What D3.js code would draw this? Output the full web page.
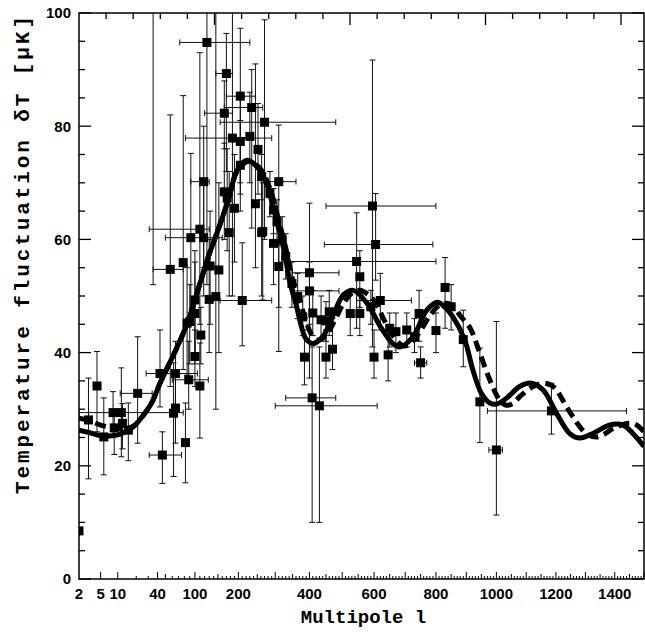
<!DOCTYPE html>
<html><head><meta charset="utf-8">
<script src="https://cdn.jsdelivr.net/npm/d3@7/dist/d3.min.js"></script>
<style>body{margin:0;background:#fff}svg{display:block}</style>
</head><body>
<svg id="c" width="645" height="632"></svg>
<script>
// ---------- data ----------
const xTickLabels = [2, 5, 10, 40, 100, 200, 400, 600, 800, 1000, 1200, 1400];
const yTickLabels = [0, 20, 40, 60, 80, 100];

// solid model curve [multipole, dT]
const solidCurve = [[2,26.3],[3,25.9],[5,25.3],[8,25.3],[11,25.6],[18,26.9],[28,29.6],[34,31.3],[43,34.6],[57,38.4],[70,41.5],[87,45.6],[100,49.4],[116,53.8],[130,57.4],[147,61],[160,63.8],[175,67],[197,72.2],[222,74],[250,72.8],[275,69.9],[295,65.5],[325,58.1],[343,52.2],[362,48.1],[376,44.6],[390,42.4],[410,41.6],[440,42.8],[460,45],[483,48.1],[505,50.3],[535,51],[578,48.7],[620,44.6],[660,41.6],[683,41],[725,42.8],[770,47.5],[805,48.9],[830,48],[856,46.3],[895,42.2],[922,36.9],[950,32.8],[978,31.1],[1000,30.9],[1033,31.9],[1078,34],[1117,34.6],[1157,33.4],[1202,29.3],[1247,25.7],[1281,24.9],[1325,25.7],[1383,27.2],[1428,27.2],[1462,25.7],[1500,23.4]];

// dashed model curve [multipole, dT]
const dashedCurve = [[2,28.4],[3,28],[5,27.2],[8,26.7],[12,26.5],[18,27],[28,29.6],[34,31.3],[43,34.6],[57,38.4],[70,41.5],[87,45.6],[100,49.4],[116,53.8],[130,57.4],[147,61],[160,63.8],[175,67],[197,72.1],[228,73.8],[258,72.5],[285,69],[305,64.5],[330,58.5],[350,53],[372,49],[390,45.5],[408,43],[425,42.2],[450,43],[475,45.5],[505,48.8],[530,50.5],[555,51],[580,50.3],[603,49],[630,46],[660,43],[693,41.2],[715,41.5],[745,43.5],[780,46.5],[810,48.3],[840,48.7],[860,48],[880,46.5],[913,44.3],[945,39.9],[978,35.2],[1011,31.6],[1033,30.7],[1055,31],[1078,32.2],[1123,34],[1157,34.6],[1185,34.2],[1202,33.4],[1230,31],[1257,28.7],[1303,25.7],[1337,25.1],[1365,25.6],[1394,26.6],[1450,27.5],[1475,27.2],[1500,26]];

// measurements [multipole, dT, dT low, dT high, l min, l max]
const lowLPoints = [
  [2,8.5,null,null,null,null],
  [3,28.1,17.7,35.5,null,null],
  [4.3,34.1,26,40.2,null,null],
  [5.7,25.1,18.4,32,null,null],
  [8.3,29.4,25.3,33.1,2,78],
  [11.5,29.4,21.6,37.3,null,null],
  [8.7,26.7,22,29.5,null,null],
  [12,27.5,23,31,null,null],
  [15,26.3,20.9,31.1,null,null],
  [21,32.8,24,42.8,11,34],
  [46,21.9,16.9,26,31,75],
  [43,36.3,30.4,44,28,105],
  [62,29.3,18.1,38.2,null,null],
  [65,30.2,24,36,null,null],
  [65,36.3,30,42,null,null],
  [82,24.1,17,31.1,null,null],
  [88,35.2,30,42,60,128],
  [110,34.1,24.9,41.7,null,null],
  [100,39.3,34,44,null,null],
  [112,43.1,38,48,null,null]
];
const peakPoints = [
  [57,54.7,34,82,35,78],
  [78,55.9,37,85.4,null,null],
  [92,60.3,47,75.2,50,160],
  [110,61.8,45,93,31,130],
  [118,60.3,50,70,null,null],
  [132,55.3,45,65,null,null],
  [152,54.6,40,70,null,null],
  [177,61.2,50,72,null,null],
  [210,49.2,41.2,59.4,155,290],
  [245,66.3,55,91,null,null],
  [262,61.2,50,72,null,null],
  [145,49.9,30,105,null,null],
  [130,49.4,40,60,null,null],
  [100,49.3,40,58,null,null],
  [100,46.9,38,56,null,null],
  [85,45.2,36,55,null,null],
  [90,45.5,38,52,null,null],
  [125,94.8,52,105,72,230],
  [170,89.3,72,96.4,145,185],
  [205,85.3,70,97.3,170,245],
  [165,82.3,76,88,120,185],
  [235,83.3,62,90,165,265],
  [270,80.7,60,98.8,155,480],
  [185,77.9,50,105,82,290],
  [205,77.3,68,86,null,null],
  [230,78.2,70,86,null,null],
  [252,75.9,68,84,null,null],
  [205,73.1,65,81,null,null],
  [310,70.2,40.2,80.2,275,360],
  [118,70.2,55,80,92,130],
  [165,68.4,60,77,null,null],
  [172,67.3,58,76,null,null],
  [190,65.5,56,75,null,null],
  [35,106,52,115,null,null],
  [265,61.4,49.3,70,null,null],
  [295,59.3,52,66,null,null],
  [310,55.2,48,62,null,null],
  [262,71.1,67,75,null,null],
  [285,68.1,64,72,null,null],
  [295,65.2,61,69,null,null],
  [305,63.1,59,67,null,null],
  [320,59.9,56,64,null,null],
  [330,57,53,61,null,null],
  [348,52.2,48,56,null,null],
  [365,49.9,46,54,null,null]
];
const highLPoints = [
  [400,54.1,35.5,66.4,350,490],
  [400,50.9,45,56,355,490],
  [385,39.2,34.3,44,null,null],
  [410,47,43,51,null,null],
  [408,32,10,41,330,480],
  [430,30.6,10,41,300,610],
  [450,39.2,35.5,44,null,null],
  [470,40.6,37,46,null,null],
  [460,47.2,43,51,null,null],
  [435,45.8,42,50,null,null],
  [545,56.1,44.3,64.7,330,800],
  [555,53.4,48,58,null,null],
  [595,65.9,41,91.7,450,800],
  [605,59.1,52.8,68.1,445,790],
  [620,49.2,44,54,545,720],
  [600,39.2,35.5,44,null,null],
  [645,39.6,35,44,null,null],
  [830,51.5,44.3,56.8,null,null],
  [800,43.9,40,47,null,null],
  [750,38.2,35.5,41,730,770],
  [745,46.9,42,51,null,null],
  [380,46.3,43,50,null,null],
  [450,45.6,42,49,null,null],
  [525,46.9,43,51,null,null],
  [555,46.9,43,51,null,null],
  [650,44.3,41,47,null,null],
  [670,43.7,40,47,null,null],
  [705,44,41,47,null,null],
  [730,42.8,40,46,null,null],
  [590,48.1,45,51,null,null],
  [850,48.1,44,52,null,null],
  [890,42.3,37.5,47.5,null,null],
  [945,31.3,24.1,40.8,935,957],
  [1000,22.8,11.3,45.5,975,1020],
  [1185,29.7,25.6,34.6,970,1440]
];
const points = lowLPoints.concat(peakPoints, highLPoints);

// ---------- layout ----------
const L = 79, R = 644, T = 13, B = 579;
const svg = d3.select('#c');

// mixed log/linear multipole axis
const tf = l => Math.log(l) + l / 82;
const xLin = d3.scaleLinear().domain([tf(2), tf(1500)]).range([L, R]);
const x = l => xLin(tf(l));
const y = d3.scaleLinear().domain([0, 100]).range([B, T]);
const topScale = d3.scaleLinear().domain([0, (R - L) / 27.1]).range([L, R]);

svg.append('defs').append('clipPath').attr('id', 'clip')
  .append('rect').attr('x', L).attr('y', T).attr('width', R - L).attr('height', B - T);

const plot = svg.append('g').attr('clip-path', 'url(#clip)');

// error bars
const eb = plot.append('g').attr('stroke', '#111').attr('stroke-width', 1).attr('fill', 'none');
const cap = 3;
points.forEach(p => {
  const [l, v, lo, hi, l0, l1] = p;
  const px = x(l), py = y(v);
  if (lo !== null) {
    eb.append('line').attr('x1', px).attr('x2', px).attr('y1', y(lo)).attr('y2', y(hi));
    eb.append('line').attr('x1', px - cap).attr('x2', px + cap).attr('y1', y(lo)).attr('y2', y(lo));
    eb.append('line').attr('x1', px - cap).attr('x2', px + cap).attr('y1', y(hi)).attr('y2', y(hi));
  }
  if (l0 !== null) {
    eb.append('line').attr('x1', x(l0)).attr('x2', x(l1)).attr('y1', py).attr('y2', py);
    eb.append('line').attr('x1', x(l0)).attr('x2', x(l0)).attr('y1', py - cap).attr('y2', py + cap);
    eb.append('line').attr('x1', x(l1)).attr('x2', x(l1)).attr('y1', py - cap).attr('y2', py + cap);
  }
});

// model curves
const line = d3.line().x(d => x(d[0])).y(d => y(d[1])).curve(d3.curveCatmullRom.alpha(0.5));
plot.append('path').datum(solidCurve).attr('d', line)
  .attr('fill', 'none').attr('stroke', '#000').attr('stroke-width', 5);
plot.append('path').datum(dashedCurve).attr('d', line)
  .attr('fill', 'none').attr('stroke', '#000').attr('stroke-width', 5)
  .attr('stroke-dasharray', '11,6');

// squares
const sq = 9;
plot.append('g').selectAll('rect').data(points).join('rect')
  .attr('x', d => x(d[0]) - sq / 2).attr('y', d => y(d[1]) - sq / 2)
  .attr('width', sq).attr('height', sq).attr('fill', '#000');

// frame
svg.append('rect').attr('x', L).attr('y', T).attr('width', R - L).attr('height', B - T)
  .attr('fill', 'none').attr('stroke', '#000').attr('stroke-width', 1.5);

// ticks
const tk = svg.append('g').attr('stroke', '#000').attr('stroke-width', 1.3);
d3.range(0, 101, 5).forEach(v => {
  const len = v % 20 === 0 ? 12 : 6;
  tk.append('line').attr('x1', L).attr('x2', L + len).attr('y1', y(v)).attr('y2', y(v));
  tk.append('line').attr('x1', R).attr('x2', R - len).attr('y1', y(v)).attr('y2', y(v));
});
d3.range(1, 21).forEach(k => {
  const len = k % 5 === 0 ? 12 : 6;
  tk.append('line').attr('x1', topScale(k)).attr('x2', topScale(k)).attr('y1', T).attr('y2', T + len);
});
const bottomTicks = [5, 10].concat(d3.range(20, 100, 10), d3.range(100, 1501, 10));
bottomTicks.forEach(l => {
  let len = 3;
  if (l === 5 || l === 10 || l === 40 || l % 100 === 0) len = 7;
  else if (l % 50 === 0) len = 5;
  tk.append('line').attr('x1', x(l)).attr('x2', x(l)).attr('y1', B).attr('y2', B - len)
    .attr('stroke-width', 1);
});

// tick labels
const lab = svg.append('g').attr('font-family', '"Liberation Sans", Arial, sans-serif')
  .attr('font-weight', 'bold').attr('font-size', 15).attr('fill', '#000');
yTickLabels.forEach(v => {
  lab.append('text').attr('x', 71).attr('y', y(v)).attr('dy', '0.36em')
    .attr('text-anchor', 'end').text(v);
});
xTickLabels.forEach(l => {
  lab.append('text').attr('x', x(l)).attr('y', 599).attr('text-anchor', 'middle').text(l);
});

// axis titles (typewriter-like serif)
svg.append('text').attr('x', 363.5).attr('y', 623).attr('text-anchor', 'middle')
  .attr('font-family', '"Liberation Mono", "Courier New", monospace').attr('font-weight', 'bold')
  .attr('font-size', 19).text('Multipole l');
svg.append('text').attr('transform', 'translate(29,255) rotate(-90)').attr('text-anchor', 'middle')
  .attr('font-family', '"Liberation Mono", "Courier New", monospace').attr('font-weight', 'bold')
  .attr('font-size', 21).attr('textLength', 478).attr('lengthAdjust', 'spacing')
  .text('Temperature fluctuation δT [μK]');
</script>
</body></html>
